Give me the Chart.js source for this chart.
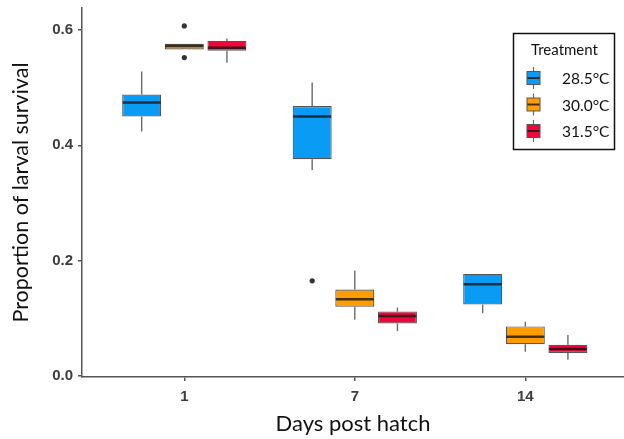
<!DOCTYPE html>
<html>
<head>
<meta charset="utf-8">
<script src="https://cdn.jsdelivr.net/npm/chart.js@4"></script>
<style>
  html, body { margin: 0; padding: 0; background: #fff; }
  #wrap { width: 624px; height: 439px; }
</style>
</head>
<body>
<div id="wrap"><canvas id="c" width="624" height="439"></canvas></div>
<script>
// ---- data ----
const categories = ['1', '7', '14'];
const seriesNames = ['28.5°C', '30.0°C', '31.5°C'];
const seriesColors = ['#0A9CF5', '#FF9D00', '#F0073A'];
const yTicks = [0, 0.2, 0.4, 0.6];

const mins28 = [0.424, 0.357, 0.109];
const q1s28  = [0.450, 0.376, 0.124];
const meds28 = [0.474, 0.450, 0.159];
const q3s28  = [0.488, 0.468, 0.177];
const maxs28 = [0.528, 0.509, 0.177];
const outs28 = [[], [0.165], []];

const mins30 = [0.566, 0.098, 0.042];
const q1s30  = [0.566, 0.120, 0.055];
const meds30 = [0.572, 0.133, 0.068];
const q3s30  = [0.576, 0.150, 0.086];
const maxs30 = [0.576, 0.183, 0.094];
const outs30 = [[0.607, 0.552], [], []];

const mins31 = [0.543, 0.078, 0.028];
const q1s31  = [0.564, 0.091, 0.040];
const meds31 = [0.569, 0.104, 0.047];
const q3s31  = [0.581, 0.112, 0.054];
const maxs31 = [0.585, 0.119, 0.071];
const outs31 = [[], [], []];

const stats = [
  {min: mins28, q1: q1s28, med: meds28, q3: q3s28, max: maxs28, out: outs28},
  {min: mins30, q1: q1s30, med: meds30, q3: q3s30, max: maxs30, out: outs30},
  {min: mins31, q1: q1s31, med: meds31, q3: q3s31, max: maxs31, out: outs31}
];

const datasets = seriesNames.map((name, s) => ({
  label: name,
  data: categories.map((c, i) => ({x: i + 1, y: [stats[s].q1[i], stats[s].q3[i]]})),
  backgroundColor: seriesColors[s],
  borderColor: '#555555',
  borderWidth: 1.2,
  borderSkipped: false,
  categoryPercentage: 0.75,
  barPercentage: 0.915
}));

const boxPlugin = {
  id: 'boxParts',
  beforeDatasetsDraw(chart) {
    const ctx = chart.ctx, y = chart.scales.y;
    ctx.save();
    ctx.strokeStyle = '#6b6b6b';
    ctx.lineWidth = 1.4;
    chart.data.datasets.forEach((ds, s) => {
      chart.getDatasetMeta(s).data.forEach((bar, i) => {
        const st = stats[s];
        ctx.beginPath();
        ctx.moveTo(bar.x, y.getPixelForValue(st.max[i]));
        ctx.lineTo(bar.x, y.getPixelForValue(st.q3[i]));
        ctx.moveTo(bar.x, y.getPixelForValue(st.q1[i]));
        ctx.lineTo(bar.x, y.getPixelForValue(st.min[i]));
        ctx.stroke();
      });
    });
    ctx.restore();
  },
  afterDatasetsDraw(chart) {
    const ctx = chart.ctx, y = chart.scales.y;
    ctx.save();
    chart.data.datasets.forEach((ds, s) => {
      chart.getDatasetMeta(s).data.forEach((bar, i) => {
        const st = stats[s];
        const half = bar.width / 2;
        const py = y.getPixelForValue(st.med[i]);
        ctx.strokeStyle = 'rgba(20,20,20,0.8)';
        ctx.lineWidth = 2.5;
        ctx.beginPath();
        ctx.moveTo(bar.x - half + 0.5, py);
        ctx.lineTo(bar.x + half - 0.5, py);
        ctx.stroke();
        ctx.fillStyle = '#333333';
        st.out[i].forEach(v => {
          ctx.beginPath();
          ctx.arc(bar.x, y.getPixelForValue(v), 2.6, 0, Math.PI * 2);
          ctx.fill();
        });
      });
    });
    ctx.restore();
  },
  afterDraw(chart) {
    const ctx = chart.ctx;
    ctx.save();
    // legend box
    ctx.strokeStyle = '#111';
    ctx.lineWidth = 1.5;
    ctx.strokeRect(513.5, 33.5, 101, 116);
    ctx.fillStyle = '#111';
    ctx.textBaseline = 'middle';
    ctx.textAlign = 'left';
    ctx.font = '15px Lato, "Open Sans", sans-serif';
    ctx.fillText('Treatment', 531, 50);
    seriesNames.forEach((name, s) => {
      const cy = 78 + s * 26.5;
      const cx = 533.5;
      ctx.strokeStyle = '#6b6b6b';
      ctx.lineWidth = 1.2;
      ctx.beginPath();
      ctx.moveTo(cx, cy - 11); ctx.lineTo(cx, cy + 11);
      ctx.stroke();
      ctx.fillStyle = seriesColors[s];
      ctx.fillRect(527, cy - 6.5, 13, 13);
      ctx.strokeStyle = '#555';
      ctx.lineWidth = 1;
      ctx.strokeRect(527, cy - 6.5, 13, 13);
      ctx.strokeStyle = 'rgba(20,20,20,0.8)';
      ctx.lineWidth = 2;
      ctx.beginPath();
      ctx.moveTo(527.5, cy); ctx.lineTo(539.5, cy);
      ctx.stroke();
      ctx.fillStyle = '#111';
      ctx.font = '15.5px Lato, "Open Sans", sans-serif';
      ctx.fillText(name, 562, cy + 1);
    });
    ctx.restore();
  }
};

new Chart(document.getElementById('c'), {
  type: 'bar',
  data: { datasets },
  plugins: [boxPlugin],
  options: {
    responsive: false,
    animation: false,
    events: [],
    layout: { padding: { top: 8, right: 0, left: 0, bottom: 0 } },
    plugins: { legend: { display: false }, tooltip: { enabled: false } },
    scales: {
      x: {
        type: 'linear',
        offset: false,
        min: 0.4,
        max: 0.4 + 542 / 170.5,
        afterBuildTicks: (sc) => { sc.ticks = categories.map((c, i) => ({value: i + 1})); },
        afterFit: (sc) => { sc.height = 62; sc.paddingLeft = 0; sc.paddingRight = 0; },
        ticks: {
          callback: (v) => categories[v - 1],
          font: { family: '"Liberation Sans", Arial, sans-serif', size: 15, weight: 'bold' },
          color: '#3d3d3d',
          padding: 7,
          maxRotation: 0
        },
        grid: { offset: false, drawOnChartArea: false, drawTicks: true, tickLength: 4, color: '#555', lineWidth: 1.5 },
        border: { color: '#555', width: 1.5 },
        title: {
          display: true,
          text: 'Days post hatch',
          font: { family: 'Lato, "Open Sans", sans-serif', size: 22 },
          color: '#111',
          padding: { top: 0, bottom: 2 }
        }
      },
      y: {
        min: -0.0017,
        max: 0.638,
        afterBuildTicks: (sc) => { sc.ticks = yTicks.map(v => ({value: v})); },
        afterFit: (sc) => { sc.width = 82; sc.paddingTop = 0; sc.paddingBottom = 0; },
        ticks: {
          callback: (v) => v.toFixed(1),
          font: { family: '"Liberation Sans", Arial, sans-serif', size: 15, weight: 'bold' },
          color: '#3d3d3d',
          padding: 5
        },
        grid: { offset: false, drawOnChartArea: false, drawTicks: true, tickLength: 4, color: '#555', lineWidth: 1.5 },
        border: { color: '#555', width: 1.5 },
        title: {
          display: true,
          text: 'Proportion of larval survival',
          font: { family: 'Lato, "Open Sans", sans-serif', size: 21.5 },
          color: '#111',
          padding: { top: 8, bottom: 0 }
        }
      }
    }
  }
});
</script>
</body>
</html>
